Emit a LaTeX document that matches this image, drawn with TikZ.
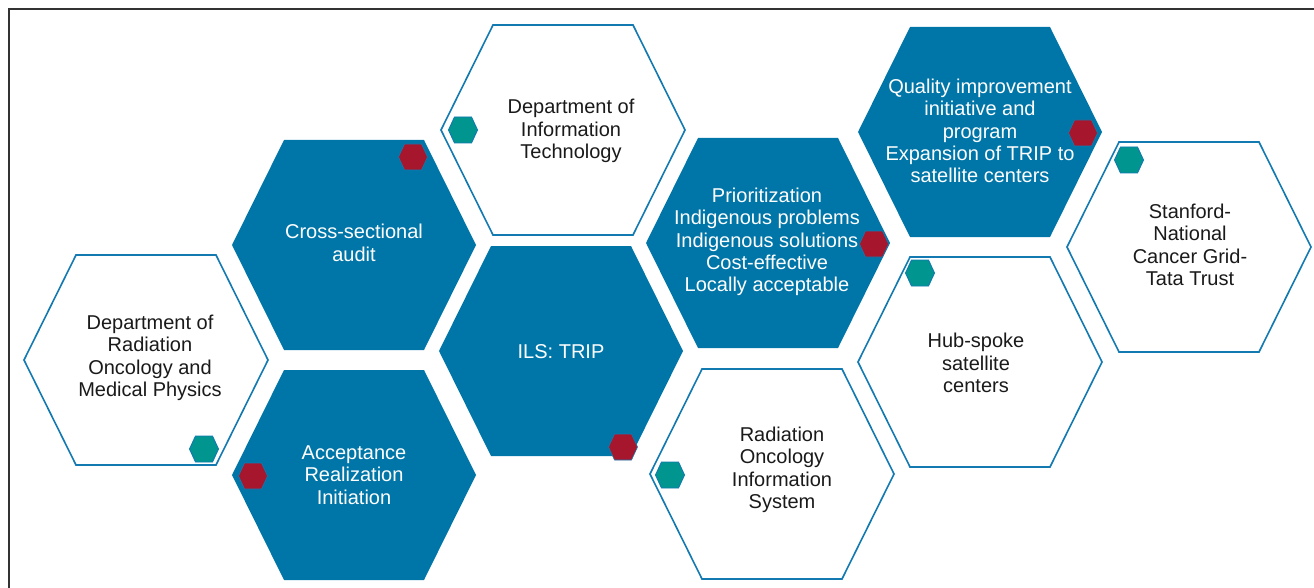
\documentclass[tikz,border=0pt]{standalone}
\usepackage{fontspec}
\setmainfont{Liberation Sans}
\definecolor{tripblue}{HTML}{0076A8}
\definecolor{edgeblue}{HTML}{1279B1}
\definecolor{pipred}{HTML}{A6172D}
\definecolor{pipteal}{HTML}{00958E}
\definecolor{inkgray}{HTML}{1A1A1A}
\definecolor{framegray}{HTML}{333333}

% large cell: half-width 122, half-height 105, flat top and bottom
\newcommand\cellhex[2]{%
  \path[#1] (#2) ++(-122,0) -- ++(52,-105) -- ++(140,0) -- ++(52,105)
    -- ++(-52,105) -- ++(-140,0) -- cycle;}
% small marker hexagon
\newcommand\markerhex[2]{%
  \path[#1] (#2) ++(-14.5,0) -- ++(6,-13) -- ++(17,0) -- ++(6,13)
    -- ++(-6,13) -- ++(-17,0) -- cycle;}

\begin{document}
\begin{tikzpicture}[x=1pt,y=-1pt,
  solidcell/.style={fill=tripblue},
  opencell/.style={draw=edgeblue,line width=1.6pt,fill=white,line join=miter},
  redpip/.style={fill=pipred,draw=edgeblue,line width=0.6pt},
  tealpip/.style={fill=pipteal,draw=edgeblue,line width=0.9pt},
  celltext/.style={align=center,inner sep=0pt,
    font=\fontsize{20}{22.4}\selectfont},
  ontint/.style={celltext,text=white},
  onpaper/.style={celltext,text=inkgray}]

\useasboundingbox (0,0) rectangle (1314,588);

% frame
\draw[framegray,line width=1.3pt] (9,588) -- (9,9) -- (1314,9);

% cell centres
\coordinate (rad)    at (146,360);
\coordinate (cross)  at (354,245);
\coordinate (accept) at (354,475);
\coordinate (it)     at (563,130);
\coordinate (ils)    at (561,351);
\coordinate (prior)  at (768,243);
\coordinate (roi)    at (772,474);
\coordinate (qual)   at (980,132);
\coordinate (hub)    at (980,362);
\coordinate (stan)   at (1189,247);

% honeycomb cells
\cellhex{opencell}{rad}
\cellhex{solidcell}{cross}
\cellhex{solidcell}{accept}
\cellhex{opencell}{it}
\cellhex{solidcell}{ils}
\cellhex{solidcell}{prior}
\cellhex{opencell}{roi}
\cellhex{solidcell}{qual}
\cellhex{opencell}{hub}
\cellhex{opencell}{stan}

% markers
\coordinate (m1)  at (204,449);
\coordinate (m2)  at (253,476);
\coordinate (m3)  at (413,157);
\coordinate (m4)  at (463,130);
\coordinate (m5)  at (623,447);
\coordinate (m6)  at (670,475);
\coordinate (m7)  at (874,244);
\coordinate (m8)  at (1083,133);
\coordinate (m9)  at (920,273);
\coordinate (m10) at (1129,160);
\markerhex{tealpip}{m1}
\markerhex{redpip}{m2}
\markerhex{redpip}{m3}
\markerhex{tealpip}{m4}
\markerhex{redpip}{m5}
\markerhex{tealpip}{m6}
\markerhex{redpip}{m7}
\markerhex{redpip}{m8}
\markerhex{tealpip}{m9}
\markerhex{tealpip}{m10}

% labels
\node[onpaper] (radtxt) at (150,358) {Department of\\Radiation\\Oncology and\\Medical Physics};
\node[ontint] (crosstxt) at (354,243) {Cross-sectional\\audit};
\node[ontint] (accepttxt) at (354,475) {Acceptance\\Realization\\Initiation};
\node[onpaper] (ittxt) at (571,131) {Department of\\Information\\Technology};
\node[ontint] (ilstxt) at (561,352) {ILS: TRIP};
\node[ontint] (priortxt) at (767,242) {Prioritization\\Indigenous problems\\Indigenous solutions\\Cost-effective\\Locally acceptable};
\node[onpaper] (roitxt) at (782,470) {Radiation\\Oncology\\Information\\System};
\node[ontint] (qualtxt) at (980,131) {Quality improvement\\initiative and\\program\\Expansion of TRIP to\\satellite centers};
\node[onpaper] (hubtxt) at (976,363) {Hub-spoke\\satellite\\centers};
\node[onpaper] (stantxt) at (1190,245) {Stanford-\\National\\Cancer Grid-\\Tata Trust};

\end{tikzpicture}
\end{document}
